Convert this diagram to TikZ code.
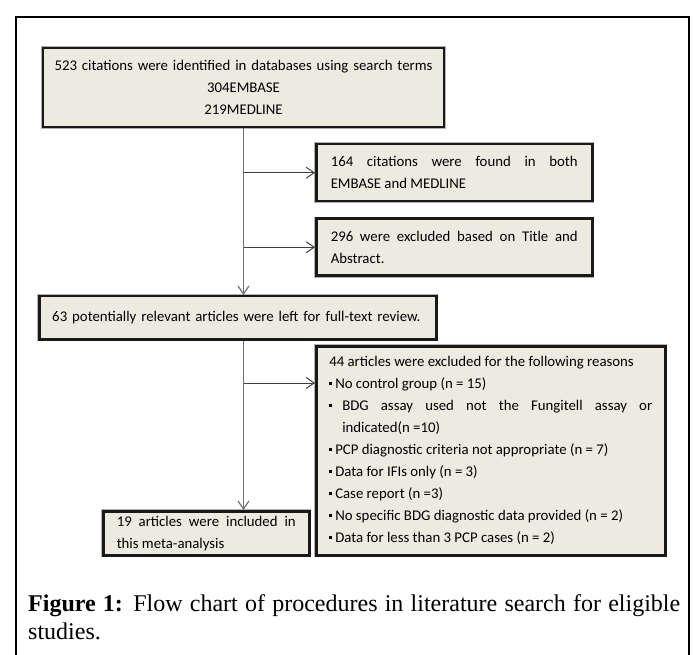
\documentclass[tikz,border=0pt]{standalone}
\usepackage{xcolor}
\usepackage{fontspec}
\setmainfont{Carlito}
\newfontfamily\capfont{Liberation Serif}
\usepackage{tikz}
\usetikzlibrary{arrows.meta,positioning,calc}
\definecolor{boxbeige}{HTML}{EDEAE0}
\definecolor{trunkgrey}{HTML}{707070}
\definecolor{arrowgrey}{HTML}{404040}
\setlength\parindent{0pt}
\hyphenpenalty=10000
\newcommand{\sqbullet}{\rule[3.8pt]{2.8pt}{2.8pt}}
\newcommand{\bitem}[2][6pt]{\par\hangindent=#1\hangafter=1\noindent\makebox[#1][l]{\sqbullet}#2}

\begin{document}
\begin{tikzpicture}[x=1pt,y=-1pt,
  stage/.style={draw=black!90,line width=2.5pt,fill=boxbeige,preaction={draw=black!30,line width=3.6pt},
    inner xsep=13pt,inner ysep=4pt,font=\fontsize{14.8}{22}\selectfont},
  side/.style={stage,align=justify,text width=247pt,inner xsep=14.5pt,minimum height=57pt},
  trunk/.style={draw=trunkgrey,line width=1.2pt,-{Straight Barb[length=8pt,width=11pt]}},
  arr/.style={draw=arrowgrey,line width=1pt,-{Straight Barb[length=8pt,width=11pt]}},
  node distance=15pt
]
\useasboundingbox (0,0) rectangle (694,655);
\draw[line width=1.4pt] (16,660) |- (689,17) -- (689,660);

% search and screening
\node[stage,align=center,text width=391pt,inner xsep=5pt,minimum height=79pt] (search) at (243.5,87.5) {%
  523 citations were identified in databases using search terms\\304EMBASE\\219MEDLINE};
\node[side,anchor=north west] (both) at (315,143) {164 citations were found in both\linebreak EMBASE and MEDLINE};
\node[side,below=15pt of both] (title) {296 were excluded based on Title and\linebreak Abstract.};
\node[stage,anchor=north west,text width=371pt,minimum height=43pt,align=left] (fulltext) at (38,295) {%
  63 potentially relevant articles were left for full-text review.};

% full-text review
\node[stage,anchor=north west,text width=323pt,minimum height=209pt,align=justify] (excl) at (315,345) {%
  44 articles were excluded for the following reasons
  \bitem{No control group (n = 15)}
  \bitem[13pt]{BDG assay used not the Fungitell assay or\linebreak indicated(n =10)}
  \bitem{PCP diagnostic criteria not appropriate (n = 7)}
  \bitem{Data for IFIs only (n = 3)}
  \bitem{Case report (n =3)}
  \bitem{No specific BDG diagnostic data provided (n = 2)}
  \bitem{Data for less than 3 PCP cases (n = 2)}};
\node[stage,anchor=north west,text width=179pt,minimum height=44pt,align=justify,inner xsep=13.5pt] (incl) at (102,510) {%
  19 articles were included in\linebreak this meta-analysis};

\node[anchor=north west,inner sep=0pt,text width=652pt,align=justify,font=\capfont\fontsize{24}{28}\selectfont] (caption) at (28,594) {%
  \textbf{Figure 1:} Flow chart of procedures in literature search for eligible\linebreak studies.};

% connectors
\coordinate (exclin) at ([yshift=-38pt]excl.north west);
\draw[trunk] (search.south) -- (search.south |- fulltext.north);
\draw[trunk] (search.south |- fulltext.south) -- (search.south |- incl.north);
\draw[arr] (search.south |- both.west) -- (both.west);
\draw[arr] (search.south |- title.west) -- (title.west);
\draw[arr] (search.south |- exclin) -- (exclin);
\end{tikzpicture}
\end{document}
